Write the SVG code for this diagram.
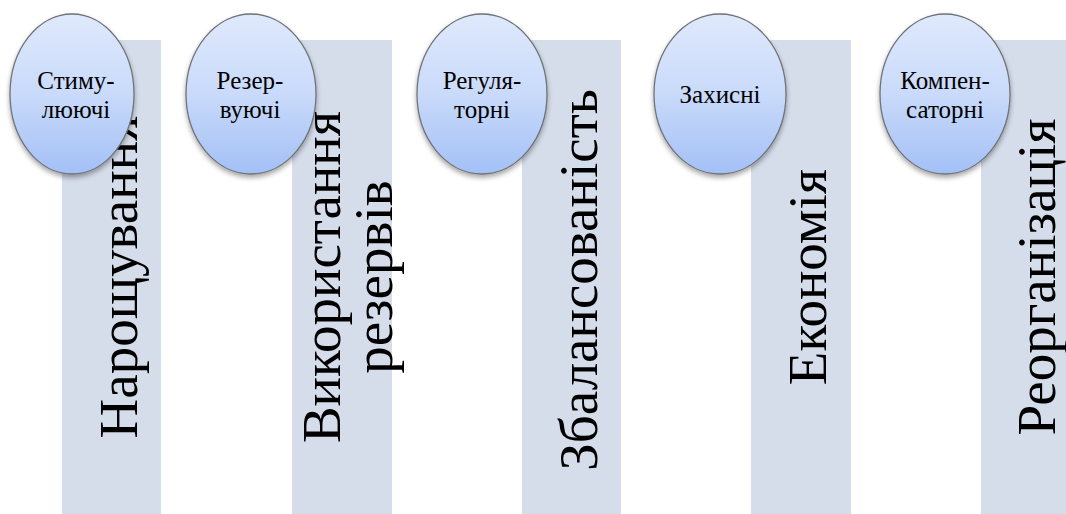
<svg xmlns="http://www.w3.org/2000/svg" width="1066" height="514" viewBox="0 0 1066 514">
<style>
.bar{fill:#d5dcea}
.big{font-family:'Liberation Serif',Tinos,'Times New Roman','Noto Serif','DejaVu Serif',FreeSerif,serif;font-size:55px;fill:#000;text-anchor:middle}
.ov{stroke:#6f7378;stroke-width:1.3;fill:url(#g)}
.lbl{font-family:'Liberation Serif',Tinos,'Times New Roman','Noto Serif','DejaVu Serif',FreeSerif,serif;font-size:25px;fill:#000;text-anchor:middle}
</style>
<defs>
<linearGradient id="g" x1="0" y1="0" x2="0" y2="1">
<stop offset="0" stop-color="#dfe9fc"/>
<stop offset="0.5" stop-color="#c9dafa"/>
<stop offset="1" stop-color="#a3c0f6"/>
</linearGradient>
<filter id="sh" x="-20%" y="-20%" width="140%" height="150%">
<feDropShadow dx="0" dy="3" stdDeviation="2.5" flood-color="#000" flood-opacity="0.35"/>
</filter>
</defs>
<g id="col1">
<rect class="bar" x="62" y="40" width="99" height="474"/>
<text class="big" transform="translate(137,277) rotate(-90)">Нарощування</text>
</g>
<g id="col2">
<rect class="bar" x="292" y="40" width="100" height="474"/>
<text class="big" transform="translate(340,277) rotate(-90)">Використання</text>
<text class="big" transform="translate(392,277) rotate(-90)">резервів</text>
</g>
<g id="col3">
<rect class="bar" x="522" y="40" width="99" height="474"/>
<text class="big" transform="translate(597,280) rotate(-90)">Збалансованість</text>
</g>
<g id="col4">
<rect class="bar" x="751" y="40" width="100" height="474"/>
<text class="big" transform="translate(826,277) rotate(-90)">Економія</text>
</g>
<g id="col5">
<rect class="bar" x="981" y="40" width="100" height="474"/>
<text class="big" transform="translate(1055,277) rotate(-90)">Реорганізація</text>
</g>
<g id="n1">
<ellipse class="ov" filter="url(#sh)" cx="72" cy="94" rx="62" ry="80"/>
<text class="lbl" x="76" y="89">Стиму-</text>
<text class="lbl" x="76" y="118">люючі</text>
</g>
<g id="n2">
<ellipse class="ov" filter="url(#sh)" cx="251" cy="94" rx="65" ry="80"/>
<text class="lbl" x="250" y="89">Резер-</text>
<text class="lbl" x="250" y="118">вуючі</text>
</g>
<g id="n3">
<ellipse class="ov" filter="url(#sh)" cx="482" cy="94" rx="65" ry="80"/>
<text class="lbl" x="482" y="89">Регуля-</text>
<text class="lbl" x="482" y="118">торні</text>
</g>
<g id="n4">
<ellipse class="ov" filter="url(#sh)" cx="720" cy="94" rx="66" ry="80"/>
<text class="lbl" x="720" y="103">Захисні</text>
</g>
<g id="n5">
<ellipse class="ov" filter="url(#sh)" cx="945" cy="94" rx="65" ry="80"/>
<text class="lbl" x="945" y="89">Компен-</text>
<text class="lbl" x="945" y="118">саторні</text>
</g>
<g id="connectors"/>
</svg>
